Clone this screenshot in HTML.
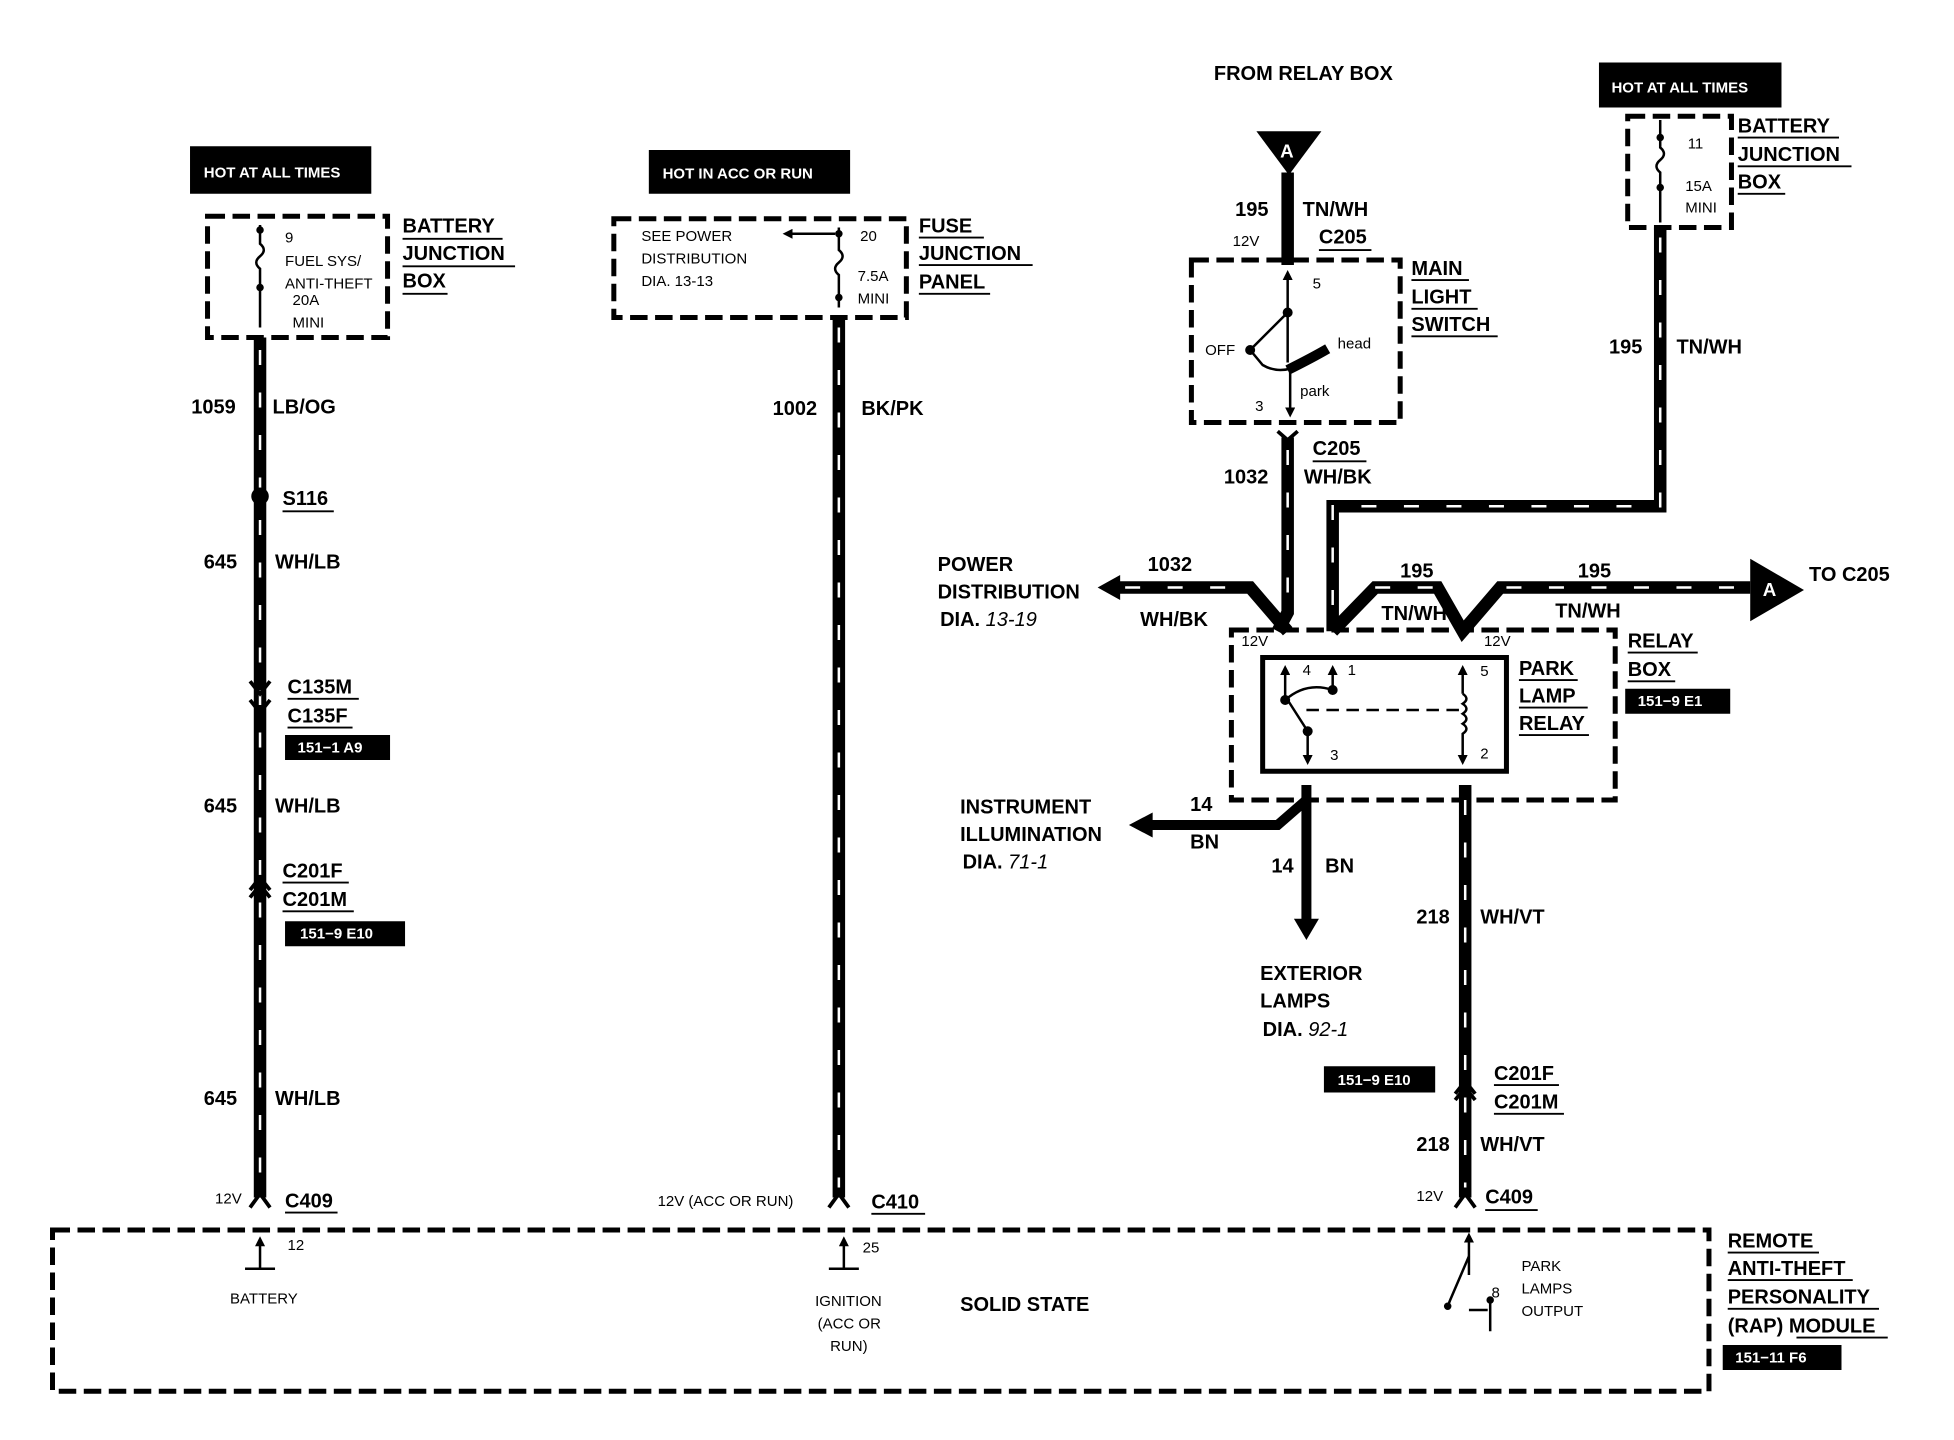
<!DOCTYPE html>
<html><head><meta charset="utf-8"><style>
html,body{margin:0;padding:0;background:#fff;width:1954px;height:1440px;overflow:hidden}
svg{display:block}
text{font-family:"Liberation Sans",sans-serif;font-weight:bold;fill:#000}
.s{font-size:12px;font-weight:normal}
.m{font-size:16px}
.w{fill:#fff;font-size:12px}
</style></head><body>
<svg width="1954" height="1440" viewBox="0 0 1563 1152" preserveAspectRatio="none">
<defs>
<marker id="ah" viewBox="0 0 10 10" refX="5" refY="5" markerWidth="4" markerHeight="4" orient="auto"><path d="M0,0 L10,5 L0,10 z" fill="#000"/></marker>
</defs>
<g fill="none" stroke="#000">
<!-- dashed boxes -->
<g stroke-width="4" stroke-dasharray="14 6">
<rect x="166" y="173" width="144" height="97"/>
<rect x="491" y="175" width="234" height="79"/>
<rect x="953" y="208" width="167" height="130"/>
<rect x="1302" y="93" width="83" height="89"/>
<rect x="985" y="504" width="307" height="136"/>
<rect x="42" y="984" width="1325" height="129"/>
</g>
<rect x="1010" y="526" width="195" height="91" stroke-width="4"/>
<!-- main wires -->
<g stroke-width="10">
<path d="M208 270 V958"/>
<path d="M671 254 V958"/>
<path d="M1030 138 V212"/>
<path d="M1030 350 V490 L1022 505"/>
<path d="M1328 182 V405 H1066 V505"/>
<path d="M890 470 H1000 L1030 505"/>
<path d="M1066 505 L1100 470 H1150 L1170 505 L1200 470 H1400"/>
<path d="M1172 628 V958"/>
</g>
<g stroke-width="8">
<path d="M1045 628 V738"/>
<path d="M1045 640 L1022 660 H918"/>
</g>
<!-- white slashes -->
<g stroke="#fff" stroke-width="2" stroke-dasharray="12 22">
<path d="M208 280 V950"/><path d="M671 262 V950"/>
<path d="M1030 360 V490"/><path d="M1328 190 V405 H1066 V490"/>
<path d="M900 470 H1000"/><path d="M1100 470 H1150"/><path d="M1205 470 H1395"/>
<path d="M1172 640 V950"/>
</g>
<!-- fuses -->
<g stroke-width="2">
<path d="M208 180 V195 q6 5 0 10 q-6 5 0 10 V262"/>
<path d="M671 182 V200 q6 5 0 10 q-6 5 0 10 V246"/>
<path d="M1328 96 V118 q6 5 0 10 q-6 5 0 10 V178"/>
<path d="M668 187 H630" marker-end="url(#ah)"/>
<!-- switch -->
<path d="M1030 290 V220" marker-end="url(#ah)"/>
<path d="M1030 250 L1000 280 L1010 292 Q1020 298 1032 295 V330" marker-end="url(#ah)"/>
<path d="M1030 296 Q1050 286 1062 279" stroke-width="8"/>
<!-- relay internals -->
<path d="M1028 560 V536" marker-end="url(#ah)"/>
<path d="M1066 552 V536" marker-end="url(#ah)"/>
<path d="M1028 560 Q1045 545 1066 552"/>
<path d="M1030 560 L1046 585 V608" marker-end="url(#ah)"/>
<path d="M1045 568 H1170" stroke-dasharray="10 6"/>
<path d="M1170 555 V536" marker-end="url(#ah)"/>
<path d="M1170 555 q6 4 0 8 q6 4 0 8 q6 4 0 8 q6 4 0 8 V608" marker-end="url(#ah)"/>
<!-- pins -->
<path d="M208 1015 V993" marker-end="url(#ah)"/><path d="M196 1015 H220"/>
<path d="M675 1015 V993" marker-end="url(#ah)"/><path d="M663 1015 H687"/>
<path d="M1175 1020 V990" marker-end="url(#ah)"/>
<path d="M1175 1005 L1160 1040 L1158 1045 M1175 1048 H1190 M1192 1040 V1065"/>
</g>
<!-- arrowheads big -->
<g fill="#000" stroke="none">
<path d="M878 470 L896 460 L896 480z"/>
<path d="M903 660 L922 650 L922 670z"/>
<path d="M1045 752 L1035 735 L1055 735z"/>
<path d="M1005 105 H1057 L1031 140z"/>
<path d="M1400 447 L1443 472 L1400 497z"/>
<circle cx="208" cy="397" r="7"/>
<circle cx="208" cy="184" r="3"/><circle cx="208" cy="230" r="3"/>
<circle cx="671" cy="187" r="3"/><circle cx="671" cy="238" r="3"/>
<circle cx="1328" cy="110" r="3"/><circle cx="1328" cy="150" r="3"/>
<circle cx="1030" cy="250" r="4"/><circle cx="1000" cy="280" r="4"/>
<circle cx="1028" cy="560" r="4"/><circle cx="1066" cy="552" r="4"/><circle cx="1046" cy="585" r="4"/>
<circle cx="1158" cy="1045" r="3"/><circle cx="1192" cy="1040" r="3"/>
<rect x="152" y="117" width="145" height="38"/>
<rect x="519" y="120" width="161" height="35"/>
<rect x="1279" y="50" width="146" height="36"/>
<rect x="228" y="588" width="84" height="20"/>
<rect x="228" y="737" width="96" height="20"/>
<rect x="1300" y="551" width="84" height="20"/>
<rect x="1059" y="853" width="89" height="21"/>
<rect x="1378" y="1076" width="95" height="20"/>
</g>
<!-- connector chevrons -->
<g stroke-width="3">
<path d="M200 545 L208 555 L216 545 M200 560 L208 570 L216 560"/>
<path d="M200 712 L208 702 L216 712 M200 718 L208 708 L216 718"/>
<path d="M1164 880 L1172 870 L1180 880 M1164 875 L1172 865 L1180 875"/>
<path d="M200 966 L208 955 L216 966 M663 966 L671 955 L679 966 M1164 966 L1172 955 L1180 966"/>
<path d="M1022 345 L1030 352 L1038 345"/>
</g>
<!-- underlines -->
<g stroke-width="1.5">
<path d="M322 191H402M322 213H412M322 235H358"/>
<path d="M735 190H787M735 212H826M735 235H792"/>
<path d="M1129 224H1175M1129 247H1182M1129 269H1198"/>
<path d="M1390 110H1471M1390 133H1481M1390 155H1428"/>
<path d="M1215 544H1262M1215 566H1270M1215 588H1271"/>
<path d="M1302 522H1358M1302 545H1340"/>
<path d="M1382 1002H1455M1382 1024H1482M1382 1047H1503M1437 1070H1510"/>
<path d="M226 409H267M230 559H287M230 582H282M226 706H279M226 729H283M228 970H270M697 971H740M1188 968H1230"/>
<path d="M1055 200H1097M1050 369H1093M1195 868H1247M1195 891H1251"/>
</g>
</g>
<!-- text -->
<text class="w" x="163" y="142">HOT AT ALL TIMES</text>
<text class="w" x="530" y="143">HOT IN ACC OR RUN</text>
<text class="w" x="1289" y="74">HOT AT ALL TIMES</text>
<text class="w" x="238" y="602">151−1 A9</text>
<text class="w" x="240" y="751">151−9 E10</text>
<text class="w" x="1310" y="565">151−9 E1</text>
<text class="w" x="1070" y="868">151−9 E10</text>
<text class="w" x="1388" y="1090">151−11 F6</text>
<g class="s">
<text class="s" x="228" y="194">9</text><text class="s" x="228" y="213">FUEL SYS/</text><text class="s" x="228" y="231">ANTI-THEFT</text><text class="s" x="234" y="244">20A</text><text class="s" x="234" y="262">MINI</text>
<text class="s" x="513" y="193">SEE POWER</text><text class="s" x="513" y="211">DISTRIBUTION</text><text class="s" x="513" y="229">DIA.  13-13</text>
<text class="s" x="688" y="193">20</text><text class="s" x="686" y="225">7.5A</text><text class="s" x="686" y="243">MINI</text>
<text class="s" x="1350" y="119">11</text><text class="s" x="1348" y="153">15A</text><text class="s" x="1348" y="170">MINI</text>
<text class="s" x="1050" y="231">5</text><text class="s" x="964" y="284">OFF</text><text class="s" x="1070" y="279">head</text><text class="s" x="1040" y="317">park</text><text class="s" x="1004" y="329">3</text>
<text class="s" x="986" y="197">12V</text><text class="s" x="993" y="517">12V</text><text class="s" x="1187" y="517">12V</text>
<text class="s" x="1042" y="540">4</text><text class="s" x="1078" y="540">1</text><text class="s" x="1184" y="541">5</text><text class="s" x="1064" y="608">3</text><text class="s" x="1184" y="607">2</text>
<text class="s" x="172" y="963">12V</text><text class="s" x="526" y="965">12V (ACC OR RUN)</text><text class="s" x="1133" y="961">12V</text>
<text class="s" x="230" y="1000">12</text><text class="s" x="184" y="1043">BATTERY</text>
<text class="s" x="690" y="1002">25</text><text class="s" x="652" y="1045">IGNITION</text><text class="s" x="654" y="1063">(ACC OR</text><text class="s" x="664" y="1081">RUN)</text>
<text class="s" x="1193" y="1038">8</text><text class="s" x="1217" y="1017">PARK</text><text class="s" x="1217" y="1035">LAMPS</text><text class="s" x="1217" y="1053">OUTPUT</text>
</g>
<g class="m">
<text class="m" x="322" y="186">BATTERY</text><text class="m" x="322" y="208">JUNCTION</text><text class="m" x="322" y="230">BOX</text>
<text class="m" x="735" y="186">FUSE</text><text class="m" x="735" y="208">JUNCTION</text><text class="m" x="735" y="231">PANEL</text>
<text class="m" x="971" y="64">FROM RELAY BOX</text>
<text class="m" x="1129" y="220">MAIN</text><text class="m" x="1129" y="243">LIGHT</text><text class="m" x="1129" y="265">SWITCH</text>
<text class="m" x="1390" y="106">BATTERY</text><text class="m" x="1390" y="129">JUNCTION</text><text class="m" x="1390" y="151">BOX</text>
<text class="m" x="1215" y="540">PARK</text><text class="m" x="1215" y="562">LAMP</text><text class="m" x="1215" y="584">RELAY</text>
<text class="m" x="1302" y="518">RELAY</text><text class="m" x="1302" y="541">BOX</text>
<text class="m" x="1382" y="998">REMOTE</text><text class="m" x="1382" y="1020">ANTI-THEFT</text><text class="m" x="1382" y="1043">PERSONALITY</text><text class="m" x="1382" y="1066">(RAP) MODULE</text>
<text class="m" x="768" y="1049">SOLID STATE</text>
<text class="m" x="153" y="331">1059</text><text class="m" x="218" y="331">LB/OG</text>
<text class="m" x="226" y="404">S116</text>
<text class="m" x="163" y="455">645</text><text class="m" x="220" y="455">WH/LB</text>
<text class="m" x="230" y="555">C135M</text><text class="m" x="230" y="578">C135F</text>
<text class="m" x="163" y="650">645</text><text class="m" x="220" y="650">WH/LB</text>
<text class="m" x="226" y="702">C201F</text><text class="m" x="226" y="725">C201M</text>
<text class="m" x="163" y="884">645</text><text class="m" x="220" y="884">WH/LB</text>
<text class="m" x="228" y="966">C409</text>
<text class="m" x="618" y="332">1002</text><text class="m" x="689" y="332">BK/PK</text>
<text class="m" x="697" y="967">C410</text>
<text class="m" x="988" y="173">195</text><text class="m" x="1042" y="173">TN/WH</text><text class="m" x="1055" y="195">C205</text>
<text class="m" x="1050" y="364">C205</text><text class="m" x="979" y="387">1032</text><text class="m" x="1043" y="387">WH/BK</text>
<text class="m" x="1287" y="283">195</text><text class="m" x="1341" y="283">TN/WH</text>
<text class="m" x="750" y="457">POWER</text><text class="m" x="750" y="479">DISTRIBUTION</text><text class="m" x="752" y="501">DIA.  <tspan font-style="italic" font-weight="normal">13-19</tspan></text>
<text class="m" x="918" y="457">1032</text><text class="m" x="912" y="501">WH/BK</text>
<text class="m" x="1120" y="462">195</text><text class="m" x="1105" y="496">TN/WH</text>
<text class="m" x="1262" y="462">195</text><text class="m" x="1244" y="494">TN/WH</text>
<text class="m" x="1447" y="465">TO C205</text>
<text class="m" x="768" y="651">INSTRUMENT</text><text class="m" x="768" y="673">ILLUMINATION</text><text class="m" x="770" y="695">DIA.  <tspan font-style="italic" font-weight="normal">71-1</tspan></text>
<text class="m" x="952" y="649">14</text><text class="m" x="952" y="679">BN</text>
<text class="m" x="1017" y="698">14</text><text class="m" x="1060" y="698">BN</text>
<text class="m" x="1008" y="784">EXTERIOR</text><text class="m" x="1008" y="806">LAMPS</text><text class="m" x="1010" y="829">DIA.  <tspan font-style="italic" font-weight="normal">92-1</tspan></text>
<text class="m" x="1133" y="739">218</text><text class="m" x="1184" y="739">WH/VT</text>
<text class="m" x="1195" y="864">C201F</text><text class="m" x="1195" y="887">C201M</text>
<text class="m" x="1133" y="921">218</text><text class="m" x="1184" y="921">WH/VT</text>
<text class="m" x="1188" y="963">C409</text>
</g>
<text x="1024" y="126" fill="#fff" style="fill:#fff;font-size:15px">A</text>
<text x="1410" y="477" style="fill:#fff;font-size:15px">A</text>
</svg>
</body></html>
